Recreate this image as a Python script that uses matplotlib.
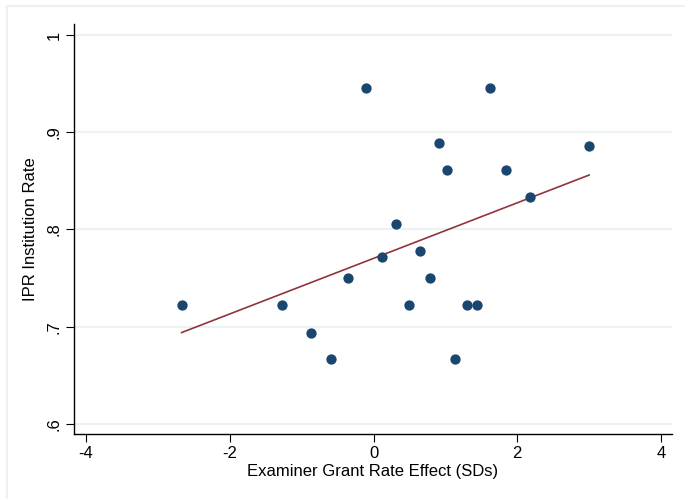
import numpy as np
import matplotlib
matplotlib.use("Agg")
import matplotlib.pyplot as plt
from matplotlib.patches import Rectangle

# examiner grant rate effect (SDs) vs IPR institution rate
grant_effect = [-2.67, -1.28, -0.87, -0.59, -0.35, -0.11, 0.12, 0.31, 0.50, 0.64,
                0.78, 0.91, 1.02, 1.14, 1.30, 1.44, 1.62, 1.85, 2.18, 3.00]
ipr_rate = [0.722, 0.722, 0.694, 0.667, 0.750, 0.946, 0.772, 0.806, 0.722, 0.778,
            0.750, 0.889, 0.861, 0.667, 0.722, 0.722, 0.945, 0.861, 0.833, 0.886]
# fitted line endpoints (as drawn in the original)
fit_x = [-2.67, 3.00]
fit_y = [0.694, 0.856]
x_ticks = [-4, -2, 0, 2, 4]
y_ticks = [0.6, 0.7, 0.8, 0.9, 1.0]
y_ticklabels = [".6", ".7", ".8", ".9", "1"]

navy = "#1a476f"
maroon = "#90353b"
grid_col = "#eaf2f3"

plt.rcParams['font.family'] = ['Liberation Sans', 'DejaVu Sans']

fig = plt.figure(figsize=(6.85, 4.99), dpi=100)
fig.patches.append(Rectangle((7 / 685, -0.1), 1.2, (499 - 6) / 499 + 0.1,
                             transform=fig.transFigure, fill=False,
                             edgecolor=grid_col, linewidth=1.5))
ax = fig.add_axes([74 / 685, 1 - 434 / 499, (672 - 74) / 685, (434 - 24) / 499])

ax.scatter(grant_effect, ipr_rate, s=55, color=navy, zorder=3, linewidths=0)
ax.plot(fit_x, fit_y, color=maroon, linewidth=1.2, zorder=2)

ax.set_xlim(-4.167, 4.153)
ax.set_ylim(0.5897, 1.0113)
ax.set_xticks(x_ticks)
ax.set_xticklabels([str(t) for t in x_ticks])
ax.set_yticks(y_ticks)
ax.set_yticklabels(y_ticklabels, rotation=90, va="center")
ax.yaxis.grid(True, color=grid_col, linewidth=1.5)
ax.set_axisbelow(True)

for s in ["top", "right"]:
    ax.spines[s].set_visible(False)
for s in ["left", "bottom"]:
    ax.spines[s].set_color("#000000")
    ax.spines[s].set_linewidth(1.0)

ax.tick_params(axis="both", direction="out", length=6, width=0.8, labelsize=12, pad=3)
ax.set_xlabel("Examiner Grant Rate Effect (SDs)", fontsize=12, labelpad=2)
ax.set_ylabel("IPR Institution Rate", fontsize=12, labelpad=6)

fig.savefig("out.png", dpi=100, facecolor="white")
